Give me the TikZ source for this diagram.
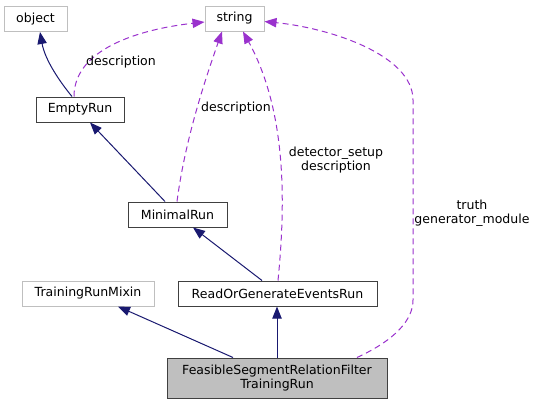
\documentclass[tikz,border=0pt]{standalone}
\usepackage{fontspec}
\setmainfont{DejaVu Sans}
\usetikzlibrary{arrows.meta,calc}
\definecolor{inhc}{HTML}{191970}
\definecolor{usec}{HTML}{9A32CD}
\definecolor{grayb}{HTML}{BFBFBF}
\begin{document}
\begin{tikzpicture}[x=0.75pt,y=-0.75pt,
  box/.style={draw=black!75,line width=0.75pt,rectangle,inner sep=0pt,minimum height=25*0.75pt,font=\fontsize{9.4}{10.2}\selectfont,align=center},
  extbox/.style={box,draw=grayb},
  inh/.style={draw=inhc,line width=0.75pt,-{Triangle[length=9pt,width=7pt]}},
  use/.style={draw=usec,line width=0.75pt,dash pattern=on 4.5pt off 3pt,-{Triangle[length=9pt,width=7pt]}},
  lbl/.style={font=\fontsize{9.4}{10.2}\selectfont,align=center,inner sep=0pt}]
\useasboundingbox (0,0) rectangle (539,405);
\node[extbox,minimum width=63*0.75pt] (object) at (35.5,19) {object};
\node[extbox,minimum width=59*0.75pt] (string) at (234.5,18.5) {string};
\node[box,minimum width=88*0.75pt] (emptyrun) at (80,109.5) {EmptyRun};
\node[box,minimum width=99*0.75pt] (minimalrun) at (177.5,214.5) {MinimalRun};
\node[extbox,minimum width=132*0.75pt] (mixin) at (88,293.5) {TrainingRunMixin};
\node[box,minimum width=199*0.75pt] (readgen) at (277.5,293.5) {ReadOrGenerateEventsRun};
\node[box,fill=grayb,draw=black!75,minimum width=220*0.75pt,minimum height=40*0.75pt] (feasible) at (277,378) {FeasibleSegmentRelationFilter\\TrainingRun};
% inheritance
\draw[inh] ($(emptyrun.north)+(-8,0)$) .. controls (60,82) and (45,60) .. ($(object.south)+(4.5,0)$);
\draw[inh] ($(minimalrun.north)+(-12.5,0)$) -- ($(emptyrun.south)+(10,0)$);
\draw[inh] ($(readgen.north)+(-15.5,0)$) -- ($(minimalrun.south)+(15.5,0)$);
\draw[inh] ($(feasible.north)+(-44,0)$) -- ($(mixin.south)+(30,0)$);
\draw[inh] (feasible.north) -- (feasible.north |- readgen.south);
% usage
\draw[use] ($(emptyrun.north)+(-6,0)$) .. controls (74,45) and (150,28) .. ($(string.west)+(0,3.5)$);
\node[lbl] (l1) at (121,62) {description};
\draw[use] ($(minimalrun.north)+(-0.5,0)$) .. controls (185,140) and (205,80) .. ($(string.south)+(-12.5,0)$);
\node[lbl] (l2) at (236,108) {description};
\draw[use] ($(readgen.north)+(0.5,0)$) .. controls (286,200) and (286,110) .. ($(string.south)+(8.5,0)$);
\node[lbl] (l3) at (336,160) {detector\_setup\\description};
\draw[use] ($(feasible.north)+(80,0)$) .. controls (395,340) and (413,320) .. (413,300) -- (413,100) .. controls (413,55) and (330,28) .. ($(string.east)+(0,3)$);
\node[lbl] (l4) at (472,213) {truth\\generator\_module};
\end{tikzpicture}
\end{document}
